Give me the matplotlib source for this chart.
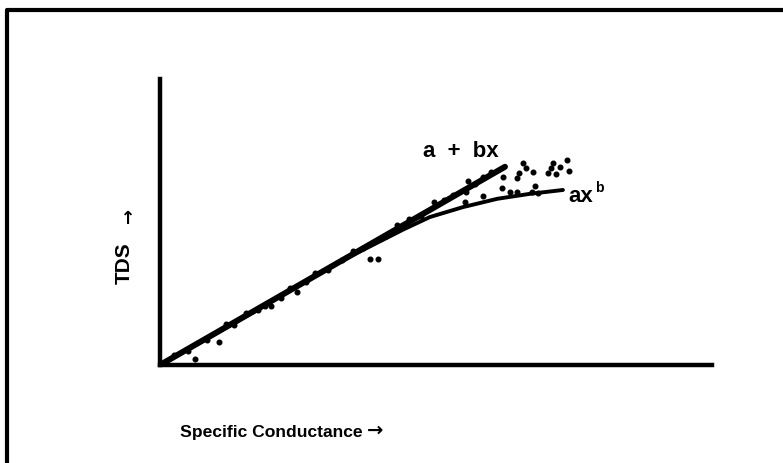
import matplotlib
matplotlib.use('Agg')
import matplotlib.pyplot as plt
from matplotlib.lines import Line2D

plt.rcParams['font.family'] = ['Liberation Sans', 'DejaVu Sans']

# straight fit a + bx (end points)
fit_x = [0.0, 62.5]
fit_y = [0.0, 35.9]

# power fit ax^b
pow_x = [0.0, 16.3, 30.8, 44.0, 48.9, 54.9, 61.1, 67.0, 73.0]
pow_y = [0.0, 9.2, 17.8, 24.5, 26.8, 28.6, 30.1, 31.0, 31.7]

# observed samples
obs_x = [6.3, 10.7, 17.8, 20.1, 24.8, 33.0, 36.8, 38.0, 39.5, 45.1, 47.3, 49.6,
         55.3, 55.4, 55.8, 58.5, 58.5, 62.0, 62.1, 63.4, 64.7, 64.7, 65.0, 65.8,
         66.3, 67.4, 67.6, 67.9, 68.5, 70.3, 70.8, 71.2, 71.7, 72.5, 73.7, 74.1,
         2.5, 5.0, 8.5, 12.0, 13.5, 15.5, 19.0, 22.0, 23.5, 26.5, 28.0, 30.5,
         35.0, 41.0, 43.0, 47.0, 51.5, 53.0, 57.0, 60.0]
obs_y = [1.1, 4.2, 10.0, 10.7, 13.2, 19.0, 21.2, 19.2, 19.2, 26.4, 27.0, 29.5,
         29.5, 31.3, 33.3, 34.1, 30.6, 32.1, 34.1, 31.3, 33.9, 31.3, 34.8, 36.6,
         35.7, 31.3, 35.0, 32.4, 31.2, 34.8, 35.7, 36.6, 34.6, 35.9, 37.1, 35.1,
         1.8, 2.6, 4.6, 7.4, 7.3, 9.4, 10.6, 12.2, 13.9, 15.0, 16.6, 17.2,
         20.6, 23.3, 25.3, 27.0, 29.8, 30.8, 32.8, 34.9]

fig = plt.figure(figsize=(7.83, 4.64), dpi=100)
ax = fig.add_axes([0.2043, 0.2112, 0.705, 0.6164])

ax.scatter(obs_x, obs_y, s=11, color='black', zorder=3)
ax.plot(fit_x, fit_y, color='black', lw=4.3, solid_capstyle='round', zorder=4)
ax.plot(pow_x, pow_y, color='black', lw=2.8, solid_capstyle='round', zorder=4)

ax.set_xlim(0, 100)
ax.set_ylim(0, 51.8)
ax.set_xticks([])
ax.set_yticks([])
for side in ['top', 'right']:
    ax.spines[side].set_visible(False)
for side in ['left', 'bottom']:
    ax.spines[side].set_linewidth(3.2)
    ax.spines[side].set_capstyle('projecting')

ax.text(54.5, 37.9, 'a  +  bx', fontsize=16, fontweight='bold', ha='center', va='baseline')
ax.text(74.0, 29.7, 'ax', fontsize=16, fontweight='bold', ha='left', va='baseline')
ax.text(78.8, 31.6, 'b', fontsize=10, fontweight='bold', ha='left', va='baseline')

arrow_font = ['DejaVu Sans']
fig.text(0.2299, 0.0582, 'Specific Conductance', fontsize=12.6, fontweight='bold',
         ha='left', va='baseline')
fig.text(0.4795, 0.0733, '\u2192', fontsize=14, fontweight='bold', family=arrow_font,
         ha='center', va='center')
fig.text(0.1584, 0.433, 'TDS', fontsize=15, fontweight='bold', rotation=90,
         ha='center', va='center')
fig.text(0.1648, 0.5356, '\u2192', fontsize=13, fontweight='bold', rotation=90,
         family=arrow_font, ha='center', va='center')

# scanned frame (only top and left edges visible)
fig.add_artist(Line2D([0.009, 0.009, 1.0], [0.0, 0.976, 0.976], color='black',
                      lw=3, transform=fig.transFigure))

fig.savefig('out.png', dpi=100)
